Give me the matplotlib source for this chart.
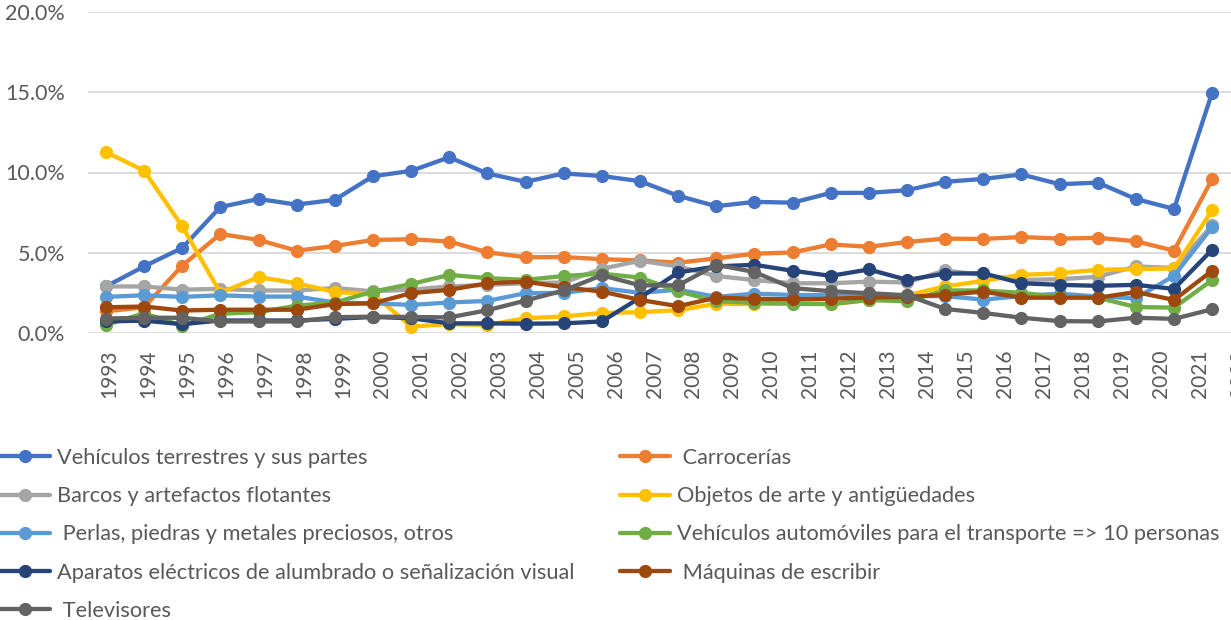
import matplotlib
matplotlib.use("Agg")
import matplotlib.pyplot as plt
import matplotlib.transforms as mtransforms
from matplotlib.ticker import FuncFormatter, FixedLocator
import numpy as np

plt.rcParams['font.family'] = ['Lato', 'DejaVu Sans']

years = list(range(1993, 2023))

series_names = [
    "Vehículos terrestres y sus partes",
    " Carrocerías",
    "Barcos y artefactos flotantes",
    "Objetos de arte y antigüedades",
    " Perlas, piedras y metales preciosos, otros",
    "Vehículos automóviles para el transporte => 10 personas",
    "Aparatos eléctricos de alumbrado o señalización visual",
    " Máquinas de escribir",
    " Televisores",
]

series_colors = ["#4472C4", "#ED7D31", "#A5A5A5", "#FFC000", "#5B9BD5",
                 "#70AD47", "#264478", "#9E480E", "#636363"]

veh_terrestres = [2.9, 4.15, 5.3, 7.85, 8.35, 8.0, 8.3, 9.77, 10.1, 10.95, 9.94, 9.42, 9.94, 9.78, 9.46,
                  8.55, 7.9, 8.17, 8.12, 8.73, 8.73, 8.9, 9.42, 9.6, 9.88, 9.27, 9.37, 8.35, 7.73, 14.98]
carrocerias = [1.35, 1.6, 4.2, 6.17, 5.8, 5.13, 5.42, 5.8, 5.84, 5.7, 5.03, 4.72, 4.73, 4.6, 4.52,
               4.38, 4.65, 4.94, 5.02, 5.52, 5.37, 5.67, 5.88, 5.86, 5.98, 5.88, 5.93, 5.72, 5.13, 9.6]
barcos = [2.9, 2.9, 2.7, 2.75, 2.65, 2.65, 2.8, 2.6, 2.7, 2.9, 3.0, 3.1, 3.15, 4.0, 4.5,
          4.15, 3.55, 3.3, 3.1, 3.1, 3.2, 3.15, 3.9, 3.6, 3.3, 3.35, 3.5, 4.15, 4.05, 6.7]
objetos_arte = [11.27, 10.12, 6.65, 2.5, 3.48, 3.1, 2.55, 2.45, 0.4, 0.55, 0.5, 0.92, 1.03, 1.25, 1.3,
                1.42, 1.82, 1.8, 1.85, 1.8, 2.06, 2.35, 2.9, 3.25, 3.62, 3.72, 3.94, 3.98, 4.02, 7.65]
perlas = [2.25, 2.35, 2.25, 2.35, 2.27, 2.27, 1.9, 1.85, 1.75, 1.9, 2.0, 2.48, 2.5, 2.8, 2.5,
          2.7, 2.25, 2.45, 2.37, 2.35, 2.3, 2.3, 2.3, 2.08, 2.3, 2.45, 2.27, 2.17, 3.56, 6.6]
veh_automoviles = [0.5, 1.23, 0.45, 1.2, 1.3, 1.7, 1.9, 2.58, 3.05, 3.62, 3.42, 3.31, 3.55, 3.7, 3.45,
                   2.6, 1.98, 1.88, 1.82, 1.8, 2.05, 1.98, 2.65, 2.65, 2.5, 2.25, 2.2, 1.62, 1.58, 3.3]
aparatos = [0.72, 0.77, 0.55, 0.78, 0.78, 0.78, 0.88, 1.0, 0.92, 0.6, 0.6, 0.58, 0.6, 0.72, 2.2,
            3.77, 4.15, 4.25, 3.88, 3.56, 3.96, 3.31, 3.7, 3.72, 3.1, 3.0, 2.94, 3.0, 2.75, 5.19]
maquinas = [1.6, 1.65, 1.4, 1.45, 1.45, 1.45, 1.8, 1.85, 2.48, 2.69, 3.1, 3.2, 2.85, 2.58, 2.06,
            1.67, 2.2, 2.13, 2.1, 2.13, 2.21, 2.25, 2.38, 2.58, 2.2, 2.2, 2.2, 2.55, 2.06, 3.88]
televisores = [0.9, 0.95, 0.95, 0.72, 0.72, 0.72, 0.98, 1.02, 1.0, 0.97, 1.42, 2.02, 2.65, 3.6, 2.97,
               2.97, 4.25, 3.8, 2.8, 2.6, 2.48, 2.35, 1.5, 1.25, 0.95, 0.74, 0.72, 0.95, 0.88, 1.48]

series_values = [veh_terrestres, carrocerias, barcos, objetos_arte, perlas,
                 veh_automoviles, aparatos, maquinas, televisores]

W, H = 1231, 620
fig = plt.figure(figsize=(W / 100, H / 100), dpi=100)
ax = fig.add_axes([88 / W, (H - 333) / H, 1144 / W, 321 / H])

x = np.arange(len(years))
lines = []
for name, vals, col in zip(series_names, series_values, series_colors):
    ln, = ax.plot(x, np.array(vals) / 100.0, color=col, lw=3.1, marker='o',
                  markersize=8.5, label=name, solid_capstyle='round', solid_joinstyle='round',
                  clip_on=False)
    lines.append(ln)

ax.set_xlim(-0.47, 29.52)
ax.set_ylim(0, 0.20)
ax.yaxis.set_major_locator(FixedLocator([0, 0.05, 0.10, 0.15, 0.20]))
ax.yaxis.set_major_formatter(FuncFormatter(lambda v, p: f"{v*100:.1f}%"))
ax.grid(axis='y', color='#D9D9D9', lw=1.3)
ax.set_axisbelow(True)
for s in ax.spines.values():
    s.set_visible(False)
ax.tick_params(axis='y', length=0, pad=16.5, labelsize=15.5, labelcolor='#595959')
ax.set_xticks([])

# category labels (rotated), spaced as in the reference
trans = mtransforms.blended_transform_factory(ax.transData, ax.transAxes)
off = mtransforms.ScaledTranslation(0, -17 / 100, fig.dpi_scale_trans)
for i, yr in enumerate(years):
    ax.text(0.08 + i * 1.0215, 0, str(yr), rotation=90, ha='center', va='top',
            fontsize=15, color='#595959', transform=trans + off, clip_on=False)

leg_kw = dict(frameon=False, fontsize=15.7, handlelength=2.3, handletextpad=0.3,
              borderpad=0, borderaxespad=0, labelspacing=0.835, labelcolor='#595959')
left_idx = [0, 2, 4, 6, 8]
right_idx = [1, 3, 5, 7]
leg1 = fig.legend([lines[i] for i in left_idx], [series_names[i] for i in left_idx],
                  loc='upper left', bbox_to_anchor=(0 / W, (H - 448) / H), **leg_kw)
leg2 = fig.legend([lines[i] for i in right_idx], [series_names[i] for i in right_idx],
                  loc='upper left', bbox_to_anchor=(620 / W, (H - 448) / H), **leg_kw)

fig.savefig("out.png", dpi=100)
